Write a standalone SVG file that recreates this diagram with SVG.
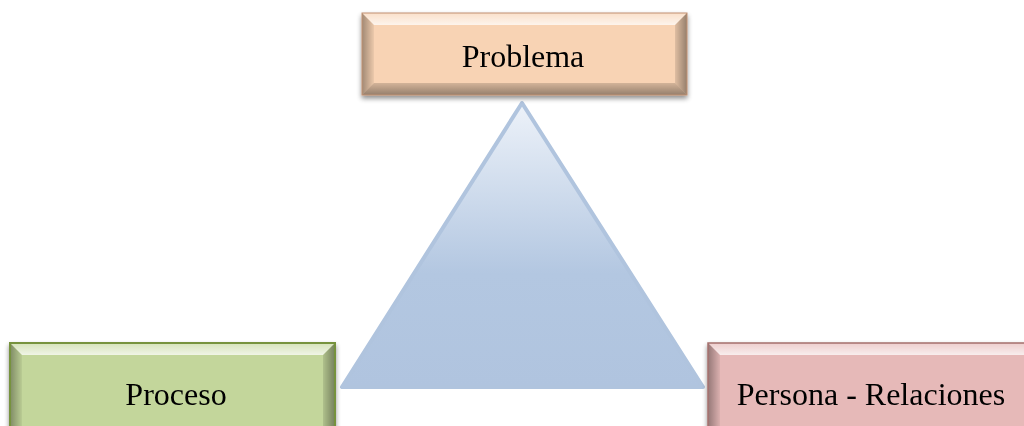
<svg xmlns="http://www.w3.org/2000/svg" width="1024" height="426" viewBox="0 0 1024 426">
<defs>
<linearGradient id="tri" x1="0" y1="0" x2="0" y2="1">
<stop offset="0" stop-color="#EDF2F9"/>
<stop offset="0.6" stop-color="#B3C7E1"/>
<stop offset="1" stop-color="#B0C4DF"/>
</linearGradient>
<linearGradient id="gTop" x1="0" y1="0" x2="0" y2="1">
<stop offset="0" stop-color="#fff" stop-opacity="0.3"/>
<stop offset="1" stop-color="#fff" stop-opacity="0.75"/>
</linearGradient>
<linearGradient id="gLeft" x1="0" y1="0" x2="1" y2="0">
<stop offset="0" stop-color="#000" stop-opacity="0.35"/>
<stop offset="1" stop-color="#000" stop-opacity="0.05"/>
</linearGradient>
<linearGradient id="gRight" x1="1" y1="0" x2="0" y2="0">
<stop offset="0" stop-color="#000" stop-opacity="0.4"/>
<stop offset="1" stop-color="#000" stop-opacity="0.1"/>
</linearGradient>
<linearGradient id="gBot" x1="0" y1="1" x2="0" y2="0">
<stop offset="0" stop-color="#000" stop-opacity="0.4"/>
<stop offset="1" stop-color="#000" stop-opacity="0.15"/>
</linearGradient>
<filter id="sh" x="-10%" y="-20%" width="120%" height="150%">
<feGaussianBlur in="SourceAlpha" stdDeviation="2.5"/>
<feOffset dx="0" dy="3"/>
<feComponentTransfer><feFuncA type="linear" slope="0.45"/></feComponentTransfer>
<feMerge><feMergeNode/><feMergeNode in="SourceGraphic"/></feMerge>
</filter>
</defs>
<style>
.t{font-family:"Liberation Serif","Times New Roman",serif;font-size:32px;fill:#000;text-anchor:middle}
.hl{fill:url(#gTop)}
.lf{fill:url(#gLeft)}
.rt{fill:url(#gRight)}
.bt{fill:url(#gBot)}
</style>
<rect width="1024" height="426" fill="#fff"/>
<g id="triangle">
<polygon points="522,103 342,387 703,387" fill="url(#tri)" stroke="#B0C4DE" stroke-width="4" stroke-linejoin="round"/>
</g>
<g id="problema" filter="url(#sh)">
<rect x="362" y="13" width="325" height="82" fill="#F8D3B4"/>
<polygon class="hl" points="362,13 687,13 675,25 374,25"/>
<polygon class="lf" points="362,13 374,25 374,83 362,95"/>
<polygon class="rt" points="687,13 675,25 675,83 687,95"/>
<polygon class="bt" points="362,95 374,83 675,83 687,95"/>
<rect x="362" y="13" width="325" height="82" fill="none" stroke="#C09070" stroke-width="1"/>
<text class="t" x="523" y="67">Problema</text>
</g>
<g id="proceso" filter="url(#sh)">
<rect x="10" y="343" width="325" height="90" fill="#C3D69B"/>
<polygon class="hl" points="10,343 335,343 323,355 22,355"/>
<polygon class="lf" points="10,343 22,355 22,433 10,433"/>
<polygon class="rt" points="335,343 323,355 323,433 335,433"/>
<rect x="10" y="343" width="325" height="90" fill="none" stroke="#76923C" stroke-width="2"/>
<text class="t" x="176" y="405">Proceso</text>
</g>
<g id="persona" filter="url(#sh)">
<rect x="708" y="343" width="330" height="90" fill="#E6B9B8"/>
<polygon class="hl" points="708,343 1038,343 1026,355 720,355"/>
<polygon class="lf" points="708,343 720,355 720,433 708,433"/>
<rect x="708" y="343" width="330" height="90" fill="none" stroke="#A5706E" stroke-width="1.5"/>
<text class="t" x="871" y="405">Persona - Relaciones</text>
</g>
<g id="connectors"></g>
</svg>
